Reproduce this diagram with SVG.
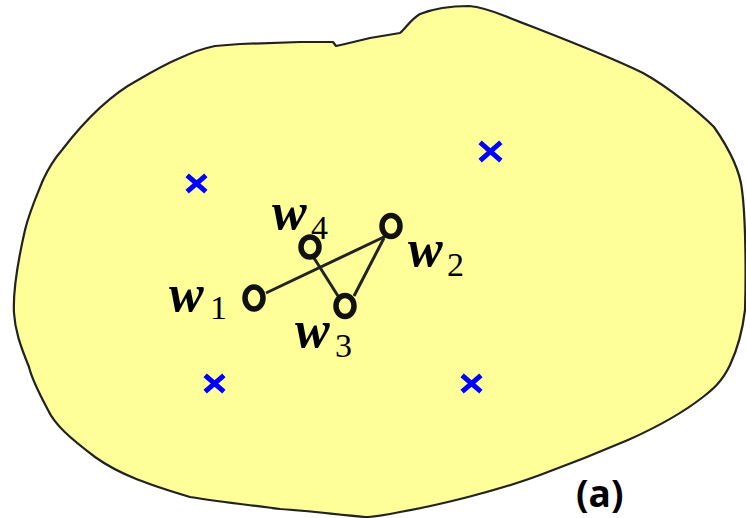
<svg xmlns="http://www.w3.org/2000/svg" width="746" height="518" viewBox="0 0 746 518">
<style>
.region{fill:#FFFF99;stroke:#222;stroke-width:2.2;stroke-linejoin:round}
.edge{stroke:#222;stroke-width:3;fill:none}
.node{fill:none;stroke:#111;stroke-width:5.5}
.cross{stroke:#0000FF;stroke-width:5;stroke-linecap:square}
.w{font-family:"Liberation Serif",serif;font-style:italic;font-weight:bold;font-size:52px;fill:#000}
.sub{font-family:"Liberation Serif",serif;font-size:34px;fill:#000}
.cap{font-family:"Open Sans","Liberation Sans",sans-serif;font-weight:bold;font-size:37px;fill:#000}
</style>
<rect width="746" height="518" fill="#fff"/>
<path class="region" d="M180,58 C195,51 205,48 215,46 L240,44 L300,42 L333,42 L336,46 L345,44 L370,38 L400,33 C406,28 410,20 420,14 C435,8 448,6 469,6 C480,7 490,10 505,16 C540,30 600,52 643,73 C670,88 700,113 714,127 C730,150 740,170 742,190 C746,220 746,280 745,310 C742,335 737,350 730,365 C722,382 712,390 703,397 C680,415 655,428 628,440 C600,452 570,464 540,475 C500,490 440,505 400,512 C385,515 375,517 365,517 C340,515 310,511 280,509 C250,505 220,502 190,497 C150,485 120,475 95,457 C70,438 55,425 48,410 C40,395 32,380 29,367 C20,345 15,330 14,313 C13,295 17,265 25,230 C30,210 37,195 43,180 C50,165 55,158 62,150 C85,120 110,95 138,80 C155,70 168,63 180,58 Z"/>
<g id="crosses">
<g id="x1" class="cross"><line x1="189" y1="177" x2="204" y2="190"/><line x1="204" y1="177" x2="189" y2="190"/></g>
<g id="x2" class="cross"><line x1="482" y1="144" x2="499" y2="159"/><line x1="499" y1="144" x2="482" y2="159"/></g>
<g id="x3" class="cross"><line x1="207" y1="377" x2="222" y2="390"/><line x1="222" y1="377" x2="207" y2="390"/></g>
<g id="x4" class="cross"><line x1="464" y1="377" x2="479" y2="390"/><line x1="479" y1="377" x2="464" y2="390"/></g>
</g>
<g id="connectors">
<line class="edge" x1="266" y1="293" x2="386" y2="236"/>
<line class="edge" x1="314" y1="258" x2="338" y2="296"/>
<line class="edge" x1="384" y1="238" x2="354" y2="296"/>
</g>
<g id="w1"><ellipse class="node" cx="254" cy="298" rx="9" ry="11"/><text class="w" x="169" y="311">w</text><text class="sub" x="210" y="319">1</text></g>
<g id="w2"><ellipse class="node" cx="391" cy="226" rx="9" ry="10.5"/><text class="w" x="408" y="266">w</text><text class="sub" x="447" y="276">2</text></g>
<g id="w3"><ellipse class="node" cx="345" cy="306" rx="9" ry="10.5"/><text class="w" x="295" y="347">w</text><text class="sub" x="335" y="357">3</text></g>
<g id="w4"><ellipse class="node" cx="310" cy="247" rx="9" ry="10"/><text class="w" x="272" y="229">w</text><text class="sub" x="311" y="239">4</text></g>
<text class="cap" x="576" y="507">(a)</text>
</svg>
